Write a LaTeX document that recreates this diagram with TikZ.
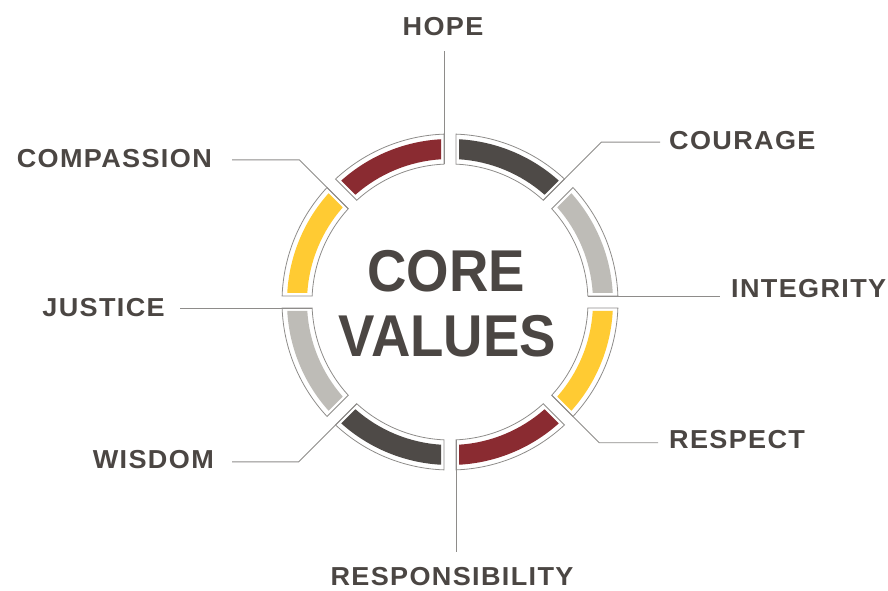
\documentclass[tikz,border=0pt]{standalone}
\usepackage{fontspec}
\setmainfont{Liberation Sans}
\newfontfamily\labfont[LetterSpace=5]{Liberation Sans}
\usetikzlibrary{calc}
\definecolor{ink}{HTML}{4B4643}
\definecolor{linegray}{HTML}{8E8C8A}
\definecolor{segRed}{HTML}{8A2B31}
\definecolor{segDark}{HTML}{4E4A47}
\definecolor{segGray}{HTML}{BEBCB7}
\definecolor{segYel}{HTML}{FFCB33}
\begin{document}
\begin{tikzpicture}[x=1pt,y=1pt,
  leader/.style={draw=linegray,line width=0.9pt},
  rim/.style={draw=linegray,line width=0.8pt},
  lab/.style={font=\labfont\bfseries\fontsize{26}{26}\selectfont,text=ink,inner sep=0pt,xscale=1.04},
  title/.style={font=\bfseries\fontsize{59}{59}\selectfont,text=ink,inner sep=0pt,xscale=0.925}]
\useasboundingbox (0,0) rectangle (888,591);
\coordinate (C) at (450,289);

% ring segments: coloured band and offset outline
\foreach \a/\col in {0/segGray,45/segDark,90/segRed,135/segYel,180/segGray,225/segDark,270/segRed,315/segYel}{
  \pgfmathsetmacro\b{\a+45}
  \fill[\col] ($(C)+({\a+asin(9/163)}:163)$)
    arc[start angle={\a+asin(9/163)},end angle={\b-asin(9/163)},radius=163]
    -- ($(C)+({\b-asin(9/143)}:143)$)
    arc[start angle={\b-asin(9/143)},end angle={\a+asin(9/143)},radius=143] -- cycle;
  \draw[rim] ($(C)+({\a+asin(6/168)}:168)$)
    arc[start angle={\a+asin(6/168)},end angle={\b-asin(6/168)},radius=168]
    -- ($(C)+({\b-asin(6/138)}:138)$)
    arc[start angle={\b-asin(6/138)},end angle={\a+asin(6/138)},radius=138] -- cycle;
}

% leader start points on the ring
\foreach \a/\n in {0/integrity,45/courage,90/hope,135/compassion,180/justice,225/wisdom,270/responsibility,315/respect}{
  \coordinate (r-\n) at ($(C)+(\a:138)+(\a+90:6)$);
}

% centre title
\node[title] (core) at (446,319.5) {CORE};
\node[title] (values) at (447.5,255) {VALUES};

% labels
\node[lab] (hope) at (443,564) {HOPE};
\node[lab,anchor=west] (courage) at (669,450) {COURAGE};
\node[lab,anchor=west] (integrity) at (731,302) {INTEGRITY};
\node[lab,anchor=west] (respect) at (669,151) {RESPECT};
\node[lab] (responsibility) at (452,14) {RESPONSIBILITY};
\node[lab,anchor=east] (wisdom) at (214,131) {WISDOM};
\node[lab,anchor=east] (justice) at (165,283) {JUSTICE};
\node[lab,anchor=east] (compassion) at (212,432) {COMPASSION};

% bends of the diagonal leaders
\coordinate (b-courage) at ($(r-courage)+(45:82)$);
\coordinate (b-respect) at ($(r-respect)+(-45:67)$);
\coordinate (b-wisdom) at ($(r-wisdom)+(225:82)$);
\coordinate (b-compassion) at ($(r-compassion)+(135:69)$);

% free ends of the leaders, short of each label
\path (r-hope |- hope.south) ++(0,-15) coordinate (e-hope);
\path (r-responsibility |- responsibility.north) ++(0,16) coordinate (e-responsibility);
\path (r-integrity -| integrity.west) ++(-11,0) coordinate (e-integrity);
\path (r-justice -| justice.east) ++(15,0) coordinate (e-justice);
\path (b-courage -| courage.west) ++(-9,0) coordinate (e-courage);
\path (b-respect -| respect.west) ++(-11,0) coordinate (e-respect);
\path (b-wisdom -| wisdom.east) ++(18,0) coordinate (e-wisdom);
\path (b-compassion -| compassion.east) ++(20,0) coordinate (e-compassion);

% leaders
\draw[leader] (r-hope) -- (e-hope);
\draw[leader] (r-responsibility) -- (e-responsibility);
\draw[leader] (r-integrity) -- (e-integrity);
\draw[leader] (r-justice) -- (e-justice);
\draw[leader] (r-courage) -- (b-courage) -- (e-courage);
\draw[leader] (r-respect) -- (b-respect) -- (e-respect);
\draw[leader] (r-wisdom) -- (b-wisdom) -- (e-wisdom);
\draw[leader] (r-compassion) -- (b-compassion) -- (e-compassion);
\end{tikzpicture}
\end{document}
